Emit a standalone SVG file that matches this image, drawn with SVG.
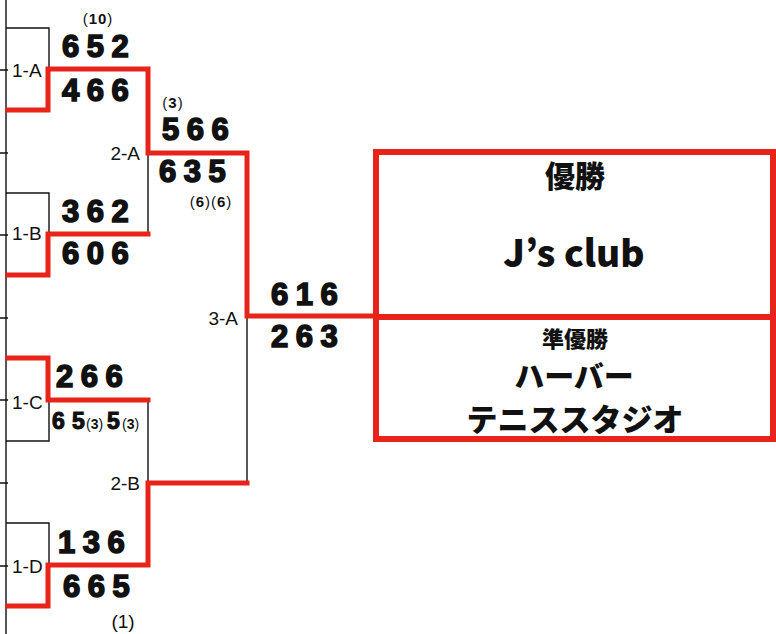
<svg xmlns="http://www.w3.org/2000/svg" width="776" height="634" viewBox="0 0 776 634">
<style>
.bk{fill:none;stroke:#111;stroke-width:1.4}
.rd{fill:none;stroke:#e8231a;stroke-width:5;stroke-linejoin:miter;stroke-linecap:square}
.sc{font-family:"Liberation Sans",Arial,sans-serif;font-weight:bold;font-size:31px;letter-spacing:7.5px;fill:#111;stroke:#111;stroke-width:1.6}
.sm{font-family:"Liberation Sans",Arial,sans-serif;font-weight:bold;font-size:23px;fill:#111;stroke:#111;stroke-width:1.1}
.an{font-family:"Liberation Sans",Arial,sans-serif;font-size:15px;letter-spacing:1px;fill:#111}
.an .b{font-weight:bold}
.lb{font-family:"Liberation Sans",Arial,sans-serif;font-size:19px;fill:#111}
.jp{font-family:"Noto Sans CJK JP",sans-serif;font-weight:900;fill:#111;text-anchor:middle}
</style>
<rect width="776" height="634" fill="#fff"/>
<g id="connectors">
  <path class="bk" d="M6 0V634 M0 70H8 M0 153H8 M0 235H8 M0 318H8 M0 400H8 M0 483H8 M0 566H8"/>
  <path class="bk" d="M6 28H49V69 M6 193H49V234 M6 441H49V400 M6 523H49V565 M148 153V234 M148 400V483 M247 318V483"/>
  <path class="rd" d="M8 110H48V69H148V153H247V316H376"/>
  <path class="rd" d="M8 275H48V234H148"/>
  <path class="rd" d="M8 358H48V400H148"/>
  <path class="rd" d="M8 606H48V565H148V483H247"/>
</g>
<g id="match-1A">
  <text class="lb" x="12" y="77">1-A</text>
  <text class="an" x="98" y="24" text-anchor="middle">(<tspan class="b">10</tspan>)</text>
  <text class="sc" x="62" y="57">652</text>
  <text class="sc" x="62" y="101">466</text>
</g>
<g id="match-1B">
  <text class="lb" x="12" y="240">1-B</text>
  <text class="sc" x="62" y="222">362</text>
  <text class="sc" x="62" y="264">606</text>
</g>
<g id="match-1C">
  <text class="lb" x="12" y="409">1-C</text>
  <text class="sc" x="56" y="387">266</text>
  <text class="sm" y="429"><tspan x="52">6</tspan><tspan x="72">5</tspan><tspan x="86" class="an" style="font-size:14px;stroke:none;font-weight:normal;letter-spacing:0">(<tspan font-weight="bold">3</tspan>)</tspan><tspan x="107">5</tspan><tspan x="122" class="an" style="font-size:14px;stroke:none;font-weight:normal;letter-spacing:0">(<tspan font-weight="bold">3</tspan>)</tspan></text>
</g>
<g id="match-1D">
  <text class="lb" x="12" y="573">1-D</text>
  <text class="sc" x="58" y="553">136</text>
  <text class="sc" x="63" y="597">665</text>
  <text class="lb" x="123" y="628" text-anchor="middle">(1)</text>
</g>
<g id="match-2A">
  <text class="lb" x="140" y="160" text-anchor="end">2-A</text>
  <text class="an" x="173" y="108" text-anchor="middle">(<tspan class="b">3</tspan>)</text>
  <text class="sc" x="162" y="140">566</text>
  <text class="sc" x="159" y="182">635</text>
  <text class="an" x="211" y="207" text-anchor="middle">(<tspan class="b">6</tspan>)(<tspan class="b">6</tspan>)</text>
</g>
<g id="match-2B">
  <text class="lb" x="140" y="490" text-anchor="end">2-B</text>
</g>
<g id="match-3A">
  <text class="lb" x="238" y="325" text-anchor="end">3-A</text>
  <text class="sc" x="271" y="305">616</text>
  <text class="sc" x="271" y="347">263</text>
</g>
<g id="result">
  <rect x="376" y="152" width="397" height="287" fill="none" stroke="#e8231a" stroke-width="6"/>
  <line x1="376" y1="317" x2="773" y2="317" stroke="#e8231a" stroke-width="6"/>
  <text class="jp" x="575" y="187" font-size="30">優勝</text>
  <text class="jp" x="574" y="267" font-size="37">J’s club</text>
  <text class="jp" x="575" y="347" font-size="22">準優勝</text>
  <text class="jp" x="574" y="387" font-size="30">ハーバー</text>
  <text class="jp" x="575" y="431" font-size="31">テニススタジオ</text>
</g>
</svg>
